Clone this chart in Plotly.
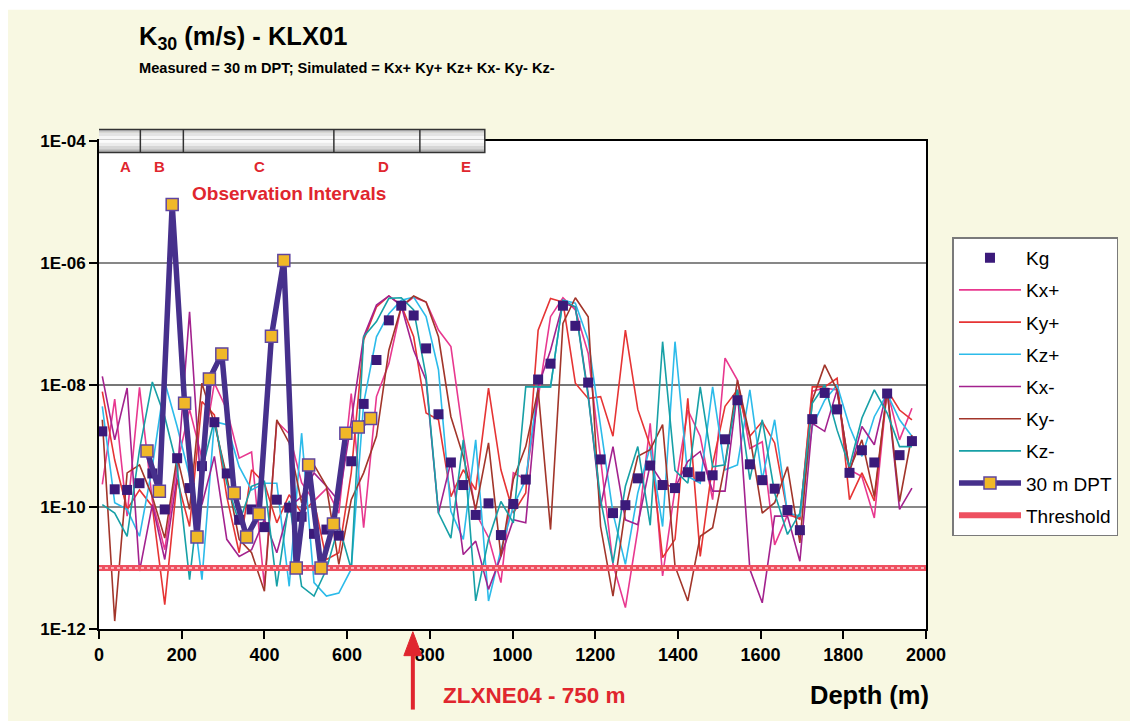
import numpy as np
import plotly.graph_objects as go

# ---------------- data ----------------
depth = [8, 38, 68, 98, 129, 159, 189, 219, 249, 279, 309, 339, 369, 400, 430, 460, 490, 520, 550, 580,
         610, 640, 671, 701, 731, 761, 791, 821, 851, 881, 911, 942, 972, 1002, 1032, 1062, 1092, 1122, 1152, 1183,
         1213, 1243, 1273, 1303, 1333, 1363, 1393, 1424, 1454, 1484, 1514, 1544, 1574, 1604, 1634, 1665, 1695, 1725, 1755, 1785,
         1815, 1845, 1875, 1906, 1936, 1966]

# log10(K) values
kg_log = [-8.76, -9.71, -9.72, -9.61, -9.45, -10.04, -9.20, -9.69, -9.33, -8.61,
          -9.45, -10.21, -10.04, -10.33, -9.88, -10.01, -10.16, -10.44, -10.37, -10.47,
          -9.25, -8.31, -7.59, -6.94, -6.70, -6.86, -7.40, -8.48, -9.27, -9.64,
          -10.13, -9.94, -10.46, -9.95, -9.55, -7.91, -7.65, -6.70, -7.03, -7.96,
          -9.22, -10.10, -9.97, -9.53, -9.32, -9.64, -9.69, -9.43, -9.50, -9.48,
          -8.89, -8.25, -9.30, -9.56, -9.70, -10.05, -10.38, -8.56, -8.13, -8.40,
          -9.44, -9.07, -9.27, -8.14, -9.15, -8.92]

kxp_log = [-9.63, -8.23, -10.15, -8.04, -9.90, -10.70, -9.30, -8.40, -9.20, -7.97,
           -8.40, -9.20, -9.10, -11.30, -8.60, -8.80, -9.60, -9.90, -9.70, -10.10,
           -8.14, -10.34, -8.19, -7.65, -6.72, -6.56, -6.64, -7.10, -7.37, -8.84,
           -10.10, -10.50, -11.24, -9.44, -9.55, -8.19, -6.88, -6.57, -6.77, -7.48,
           -9.17, -10.94, -11.65, -10.37, -8.63, -11.13, -9.70, -8.41, -8.84, -9.88,
           -7.56, -7.92, -9.04, -8.93, -10.62, -10.13, -10.18, -8.10, -8.05, -8.08,
           -9.39, -9.50, -10.18, -8.08, -8.90, -8.38]

kyp_log = [-8.11, -9.23, -10.04, -9.72, -9.99, -11.60, -9.55, -10.32, -8.27, -8.49,
           -9.83, -10.75, -9.39, -9.61, -10.26, -9.80, -10.10, -9.90, -10.86, -10.75,
           -9.44, -7.26, -6.72, -6.54, -6.69, -7.21, -8.46, -8.57, -9.83, -9.39,
           -9.72, -8.05, -9.39, -10.10, -9.77, -7.10, -6.58, -6.64, -7.97, -8.22,
           -8.19, -8.84, -7.10, -8.40, -9.00, -10.83, -10.53, -8.22, -10.81, -9.30,
           -8.35, -8.08, -8.84, -8.60, -8.95, -10.10, -10.20, -8.03, -8.03, -7.89,
           -9.88, -9.44, -9.90, -8.08, -8.41, -8.57]

kzp_log = [-8.35, -9.93, -10.04, -10.48, -9.34, -7.95, -8.68, -9.50, -11.19, -8.60,
           -8.65, -9.34, -9.72, -9.61, -9.61, -11.30, -8.79, -11.24, -11.46, -11.41,
           -11.02, -8.30, -7.21, -6.83, -6.61, -6.56, -6.88, -7.75, -10.07, -10.53,
           -8.90, -11.54, -10.70, -9.99, -9.55, -8.03, -8.03, -6.61, -6.66, -7.26,
           -8.68, -10.10, -10.94, -9.77, -9.01, -10.32, -7.29, -9.50, -9.61, -8.03,
           -9.39, -9.31, -8.08, -9.55, -8.57, -10.10, -10.15, -8.68, -8.25, -8.00,
           -8.68, -9.17, -8.52, -8.14, -8.57, -8.84]

kxm_log = [-7.86, -8.90, -8.05, -11.05, -9.96, -10.86, -9.50, -6.80, -9.96, -9.17,
           -10.53, -10.81, -10.70, -10.20, -10.75, -10.00, -9.83, -9.44, -9.66, -9.90,
           -8.60, -7.21, -6.69, -6.54, -6.70, -7.43, -7.92, -10.10, -9.26, -10.78,
           -10.56, -11.35, -10.81, -10.21, -10.26, -8.03, -7.43, -6.66, -6.72, -8.14,
           -9.99, -9.01, -10.21, -10.29, -9.30, -9.61, -9.69, -9.25, -9.09, -9.74,
           -9.74, -8.08, -11.02, -11.57, -10.15, -10.15, -10.89, -8.63, -8.76, -8.08,
           -9.44, -8.68, -8.98, -8.08, -10.04, -9.69]

kym_log = [-8.57, -11.87, -9.44, -9.31, -9.83, -10.51, -9.17, -10.04, -7.97, -8.63,
           -9.50, -10.53, -10.75, -11.38, -8.57, -8.95, -9.93, -9.31, -9.66, -10.94,
           -9.88, -9.44, -8.84, -7.43, -6.72, -6.54, -6.64, -7.21, -8.52, -9.17,
           -10.04, -8.95, -10.81, -9.55, -9.01, -8.08, -10.37, -6.99, -6.57, -6.88,
           -10.32, -11.46, -10.04, -9.17, -9.06, -8.65, -10.97, -11.54, -10.48, -10.34,
           -9.30, -7.92, -8.84, -10.10, -9.93, -9.34, -10.59, -8.25, -7.67, -8.08,
           -9.39, -8.90, -9.83, -8.08, -9.91, -8.82]

kzm_log = [-9.96, -10.10, -10.48, -9.06, -7.95, -8.52, -9.34, -11.19, -9.40, -8.57,
           -9.61, -10.26, -9.66, -9.58, -11.30, -9.90, -11.30, -11.46, -11.02, -10.30,
           -11.02, -7.21, -6.96, -6.58, -6.57, -6.77, -7.86, -10.10, -10.51, -8.90,
           -11.54, -10.53, -9.91, -10.26, -8.03, -8.03, -8.03, -6.61, -6.72, -8.19,
           -9.88, -10.92, -9.66, -9.01, -10.30, -7.29, -9.40, -9.61, -8.03, -9.34,
           -9.31, -8.08, -9.55, -8.57, -9.77, -10.45, -10.10, -8.30, -8.00, -8.74,
           -9.34, -8.54, -8.08, -8.46, -9.01, -9.01]

dpt_depth = [116, 146, 177, 207, 237, 267, 297, 327, 357, 387, 417, 447, 477, 507, 537, 567, 597, 627, 657]
dpt_log = [-9.08, -9.74, -5.04, -8.30, -10.49, -7.90, -7.49, -9.77, -10.49, -10.11,
           -7.20, -5.96, -11.00, -9.31, -11.00, -10.28, -8.79, -8.69, -8.55]

threshold_depth = [0, 2000]
threshold_k = [1e-11, 1e-11]

interval_edges = [-4, 100, 204, 568, 776, 933]
interval_labels = ["A", "B", "C", "D", "E"]
interval_label_depth = [65, 146, 389, 687, 887]

fault_depth = 759

xtick_vals = [0, 200, 400, 600, 800, 1000, 1200, 1400, 1600, 1800, 2000]
ytick_vals = [1e-12, 1e-10, 1e-8, 1e-6, 1e-4]
ytick_text = ["1E-12", "1E-10", "1E-08", "1E-06", "1E-04"]

# ---------------- figure ----------------
W, H = 1130, 721
L, R, T, B = 99, 1130 - 926.5, 140.5, 721 - 629.3
PW, PH = W - L - R, H - T - B


def px_x(p):
    return (p - L) / PW


def px_y(p):
    return (H - B - p) / PH


FONT = "Liberation Sans, Arial, sans-serif"
CREAM = "#f8f8e2"
RED = "#e0262e"

fig = go.Figure()

sims = [
    ("Kx+", kxp_log, "#e8388f"),
    ("Ky+", kyp_log, "#e63434"),
    ("Kz+", kzp_log, "#2cbbea"),
    ("Kx-", kxm_log, "#a3228e"),
    ("Ky-", kym_log, "#a2352a"),
    ("Kz-", kzm_log, "#17a0a6"),
]
for i, (name, vals, col) in enumerate(sims):
    fig.add_trace(go.Scatter(x=depth, y=10 ** np.array(vals), mode="lines", name=name,
                             line=dict(color=col, width=1.6), legendrank=2 + i, legendgroup=name))

# threshold (hatched red band)
fig.add_trace(go.Scatter(x=threshold_depth, y=threshold_k, mode="lines", name="Threshold",
                         line=dict(color="#ee5060", width=6), legendrank=10, legendgroup="thr"))
fig.add_trace(go.Scatter(x=threshold_depth, y=threshold_k, mode="lines", showlegend=False,
                         line=dict(color="#ffd8dc", width=1.5, dash="dot"), hoverinfo="skip",
                         legendgroup="thr"))

fig.add_trace(go.Scatter(x=depth, y=10 ** np.array(kg_log), mode="markers", name="Kg",
                         marker=dict(symbol="square", size=10, color="#3b1a7a"),
                         legendrank=1, legendgroup="kg"))

fig.add_trace(go.Scatter(x=dpt_depth, y=10 ** np.array(dpt_log), mode="lines+markers", name="30 m DPT",
                         line=dict(color="#46308c", width=5.5),
                         marker=dict(symbol="square", size=12, color="#f0b828",
                                     line=dict(color="#5f45a0", width=1.5)),
                         legendrank=9, legendgroup="dpt"))

shapes = []
# cream background with white border strip
shapes.append(dict(type="rect", xref="paper", yref="paper", layer="below",
                   x0=px_x(8), x1=px_x(W + 5), y0=px_y(H + 5), y1=px_y(9),
                   fillcolor=CREAM, line=dict(width=0)))
shapes.append(dict(type="rect", xref="paper", yref="paper", layer="below",
                   x0=0, x1=1, y0=0, y1=1, fillcolor="white", line=dict(width=0)))
# gridlines
for v, c, w in [(1e-6, "#111111", 1.2), (1e-8, "#777777", 2), (1e-10, "#111111", 1.2)]:
    shapes.append(dict(type="line", xref="paper", yref="y", x0=0, x1=1, y0=v, y1=v,
                       layer="below", line=dict(color=c, width=w)))

# observation interval bar with gradient
bar_top, bar_bot = px_y(129), px_y(152)
strip_cols = ["#c9c9c9", "#e4e4e4", "#f6f6f6", "#fbfbfb", "#ebebeb", "#d6d6d6", "#b4b4b4"]
n = len(strip_cols)
for k, c in enumerate(strip_cols):
    y1 = bar_top - (bar_top - bar_bot) * k / n
    y0 = bar_top - (bar_top - bar_bot) * (k + 1) / n
    shapes.append(dict(type="rect", xref="x", yref="paper", x0=interval_edges[0], x1=interval_edges[-1],
                       y0=y0, y1=y1, fillcolor=c, line=dict(width=0)))
shapes.append(dict(type="rect", xref="x", yref="paper", x0=interval_edges[0], x1=interval_edges[-1],
                   y0=bar_bot, y1=bar_top, line=dict(color="#333333", width=1.5)))
for e in interval_edges[1:-1]:
    shapes.append(dict(type="line", xref="x", yref="paper", x0=e, x1=e, y0=bar_bot, y1=bar_top,
                       line=dict(color="#333333", width=1.5)))

# fault arrow (shaft + head)
shapes.append(dict(type="line", xref="x", yref="paper", x0=fault_depth, x1=fault_depth,
                   y0=px_y(710), y1=px_y(650), line=dict(color=RED, width=4)))
hx = 9 / PW * 2000
shapes.append(dict(type="path", xref="x", yref="paper",
                   path="M %f,%f L %f,%f L %f,%f Z" % (fault_depth - hx, px_y(656), fault_depth, px_y(632),
                                                      fault_depth + hx, px_y(656)),
                   fillcolor=RED, line=dict(color=RED, width=1)))

annotations = []
for lab, d in zip(interval_labels, interval_label_depth):
    annotations.append(dict(x=d, y=px_y(166), xref="x", yref="paper", text="<b>%s</b>" % lab, showarrow=False,
                            font=dict(family=FONT, size=15, color=RED), xanchor="center",
                            yanchor="middle"))
annotations.append(dict(x=460, y=px_y(193), xref="x", yref="paper", text="<b>Observation Intervals</b>",
                        showarrow=False, font=dict(family=FONT, size=19, color=RED),
                        xanchor="center", yanchor="middle"))

# titles
annotations.append(dict(x=px_x(137), y=px_y(37), xref="paper", yref="paper",
                        text="<b>K<sub>30</sub> (m/s) - KLX01</b>", showarrow=False,
                        font=dict(family=FONT, size=25.5, color="black"), xanchor="left", yanchor="middle"))
annotations.append(dict(x=px_x(137), y=px_y(67), xref="paper", yref="paper",
                        text="<b>Measured = 30 m DPT; Simulated = Kx+ Ky+ Kz+ Kx- Ky- Kz-</b>", showarrow=False,
                        font=dict(family=FONT, size=14.6, color="black"), xanchor="left", yanchor="middle"))
annotations.append(dict(x=px_x(870), y=px_y(695), xref="paper", yref="paper", text="<b>Depth (m)</b>",
                        showarrow=False, font=dict(family=FONT, size=25.5, color="black"),
                        xanchor="center", yanchor="middle"))
annotations.append(dict(x=px_x(441), y=px_y(696), xref="paper", yref="paper", text="<b>ZLXNE04 - 750 m</b>",
                        showarrow=False, font=dict(family=FONT, size=22.5, color=RED),
                        xanchor="left", yanchor="middle"))

fig.update_layout(
    width=W, height=H,
    margin=dict(l=L, r=R, t=T, b=B, pad=0),
    paper_bgcolor="white", plot_bgcolor="white",
    shapes=shapes, annotations=annotations,
    font=dict(family=FONT, color="black"),
    showlegend=True,
    legend=dict(x=px_x(953), y=px_y(237), xanchor="left", yanchor="top",
                bgcolor="white", bordercolor="#7a7a7a", borderwidth=1.5,
                font=dict(family=FONT, size=19, color="black"),
                traceorder="grouped", tracegroupgap=4.5, itemwidth=62, itemsizing="trace"),
    xaxis=dict(range=[0, 2000], tickvals=xtick_vals,
               ticktext=["<b>%d</b>" % v for v in xtick_vals],
               ticks="outside", ticklen=8, tickwidth=1.5, tickcolor="black",
               showline=True, linecolor="black", linewidth=2, mirror=True, showgrid=False, zeroline=False,
               tickfont=dict(family=FONT, size=18, color="black")),
    yaxis=dict(type="log", range=[-12, -4], tickvals=ytick_vals, ticktext=["<b>%s</b>" % t for t in ytick_text],
               ticks="outside", ticklen=8, tickwidth=1.5, tickcolor="black",
               showline=True, linecolor="black", linewidth=2, mirror=True, showgrid=False, zeroline=False,
               tickfont=dict(family=FONT, size=17, color="black")),
)

fig.write_html("out.html")
